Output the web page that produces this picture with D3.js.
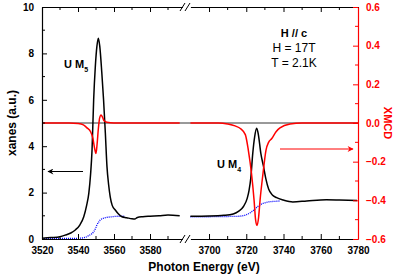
<!DOCTYPE html>
<meta charset="utf-8">
<style>
body { margin: 0; background: #fff; }
text { font-family: Arial, 'Liberation Sans', sans-serif; }
.tick text { font-size: 10px; font-weight: bold; }
</style>
<svg width="399" height="276"></svg>
<script src="https://d3js.org/d3.v7.min.js"></script>
<script>
// energy ranges of the two axis segments (eV)
var domainM5 = [3520, 3600],
    domainM4 = [3690, 3780];
var ticksM5 = [3520, 3540, 3560, 3580],
    ticksM4 = [3700, 3720, 3740, 3760, 3780];
var xanesTicks = [0, 2, 4, 6, 8, 10],
    xmcdTicks = [-0.6, -0.4, -0.2, 0.0, 0.2, 0.4, 0.6];

// xanes, M5 edge  [energy, a.u.]
var xanesM5 = [[3520,0.03],[3525,0.06],[3530,0.1],[3533,0.17],[3536,0.26],[3538.5,0.39],[3541,0.6],
  [3543.2,0.96],[3544.8,1.45],[3546,1.97],[3547,2.8],[3547.8,3.84],[3548.7,6.0],[3549.6,7.4],
  [3550.5,8.3],[3551.3,8.65],[3552.1,8.3],[3553.2,7.2],[3554.2,6.0],[3555.2,4.56],[3556.1,3.12],
  [3557,2.35],[3557.9,1.82],[3559,1.45],[3560.7,1.25],[3562.5,1.08],[3564.4,0.96],[3567,0.92],
  [3570,0.87],[3571.5,0.86],[3573,0.93],[3576,0.96],[3580,0.98],[3585,1.0],[3590,1.03],[3596.5,1.0]];
// xanes, M4 edge
var xanesM4 = [[3690,0.98],[3700,0.99],[3708,1.02],[3713,1.08],[3716,1.2],[3718.4,1.39],[3720.5,1.75],
  [3721.5,2.1],[3722.4,2.6],[3723.5,3.7],[3724.5,4.4],[3725.6,4.77],[3726.6,4.45],[3727.8,3.7],
  [3729.2,3.15],[3730.5,2.6],[3732,2.15],[3734,1.9],[3736.3,1.78],[3739.9,1.68],[3745,1.6],
  [3752.5,1.64],[3763,1.69],[3770,1.68],[3779.5,1.66]];
// edge step (dotted)
var stepM5 = [[3520,0.01],[3530,0.02],[3540,0.03],[3544,0.07],[3546,0.15],[3547.5,0.22],[3548.7,0.31],
  [3549.7,0.45],[3550.5,0.6],[3551.5,0.73],[3552.4,0.82],[3554,0.89],[3556,0.93],[3559,0.96],
  [3562,0.98],[3566,0.98]];
var stepM4 = [[3690,0.96],[3700,0.96],[3710,0.97],[3716,0.98],[3720,1.05],[3722.5,1.15],[3724.5,1.28],
  [3726,1.39],[3728,1.5],[3729.6,1.55],[3732,1.6],[3736.7,1.63],[3738,1.64]];
// XMCD (right axis)
var xmcdM5 = [[3520,0],[3535,0],[3540,-0.003],[3543,-0.01],[3545,-0.025],[3547,-0.045],[3548.3,-0.08],
  [3549.2,-0.13],[3550,-0.158],[3550.6,-0.11],[3551.3,-0.03],[3552,0.025],[3552.8,0.042],
  [3553.6,0.03],[3554.6,0.01],[3556,0.004],[3560,0.0],[3596.5,0.0]];
var xmcdM4 = [[3690,0],[3705,0],[3710,-0.005],[3714,-0.015],[3717,-0.03],[3719.5,-0.06],[3721.1,-0.14],
  [3722.8,-0.26],[3724.2,-0.4],[3725,-0.5],[3725.8,-0.53],[3726.6,-0.49],[3727.4,-0.4],[3729,-0.26],
  [3730.6,-0.14],[3732,-0.1],[3733.7,-0.08],[3736,-0.045],[3738.1,-0.025],[3743.5,-0.005],
  [3750,0],[3780,0]];

var svg = d3.select("svg");
var mLeft = 42, mRight = 358, mTop = 7, mBottom = 239;

var xL = d3.scaleLinear().domain(domainM5).range([mLeft, 186]);
var xR = d3.scaleLinear().domain(domainM4).range([190.4, mRight]);
var yL = d3.scaleLinear().domain([0, 10]).range([mBottom, mTop]);
var yR = d3.scaleLinear().domain([-0.6, 0.6]).range([mBottom, mTop]);

function line(x, y) {
	return d3.line()
		.x(function(d) { return x(d[0]); })
		.y(function(d) { return y(d[1]); })
		.curve(d3.curveMonotoneX);
}

// zero reference line
svg.append("line").attr("x1", mLeft).attr("x2", mRight)
	.attr("y1", yR(0)).attr("y2", yR(0))
	.attr("stroke", "#000").attr("stroke-width", 0.8);

// dotted edge steps
svg.append("path").datum(stepM5).attr("d", line(xL, yL))
	.attr("fill", "none").attr("stroke", "#0000ff").attr("stroke-width", 1.3).attr("stroke-dasharray", "1,1");
svg.append("path").datum(stepM4).attr("d", line(xR, yL))
	.attr("fill", "none").attr("stroke", "#0000ff").attr("stroke-width", 1.3).attr("stroke-dasharray", "1,1");

// xanes
svg.append("path").datum(xanesM5).attr("d", line(xL, yL))
	.attr("fill", "none").attr("stroke", "#000").attr("stroke-width", 1.5);
svg.append("path").datum(xanesM4).attr("d", line(xR, yL))
	.attr("fill", "none").attr("stroke", "#000").attr("stroke-width", 1.5);

// xmcd
svg.append("path").datum(xmcdM5).attr("d", line(xL, yR))
	.attr("fill", "none").attr("stroke", "#ff0000").attr("stroke-width", 1.5);
svg.append("path").datum(xmcdM4).attr("d", line(xR, yR))
	.attr("fill", "none").attr("stroke", "#ff0000").attr("stroke-width", 1.5);

// axes
svg.append("g").attr("transform", "translate(0," + mBottom + ")")
	.call(d3.axisBottom(xL).tickValues(ticksM5).tickSizeInner(-5).tickSizeOuter(0).tickPadding(8).tickFormat(d3.format("d")));
svg.append("g").attr("transform", "translate(0," + mBottom + ")")
	.call(d3.axisBottom(xR).tickValues(ticksM4).tickSizeInner(-5).tickSizeOuter(0).tickPadding(8).tickFormat(d3.format("d")));
svg.append("g").attr("transform", "translate(0," + mTop + ")")
	.call(d3.axisTop(xL).tickValues(ticksM5).tickSizeInner(-5).tickSizeOuter(0).tickFormat(""));
svg.append("g").attr("transform", "translate(0," + mTop + ")")
	.call(d3.axisTop(xR).tickValues(ticksM4).tickSizeInner(-5).tickSizeOuter(0).tickFormat(""));

// minor x ticks
[[xL, [3530, 3550, 3570, 3590]], [xR, [3710, 3730, 3750, 3770]]].forEach(function(p) {
	p[1].forEach(function(v) {
		svg.append("line").attr("x1", p[0](v)).attr("x2", p[0](v)).attr("y1", mBottom).attr("y2", mBottom - 3).attr("stroke", "#000");
		svg.append("line").attr("x1", p[0](v)).attr("x2", p[0](v)).attr("y1", mTop).attr("y2", mTop + 3).attr("stroke", "#000");
	});
});

svg.append("g").attr("transform", "translate(" + mLeft + ",0)")
	.call(d3.axisLeft(yL).tickValues(xanesTicks).tickSizeInner(-5).tickSizeOuter(0).tickPadding(8).tickFormat(d3.format("d")));
[1, 3, 5, 7, 9].forEach(function(v) {
	svg.append("line").attr("x1", mLeft).attr("x2", mLeft + 3).attr("y1", yL(v)).attr("y2", yL(v)).attr("stroke", "#000");
});

var axRight = svg.append("g").attr("transform", "translate(" + mRight + ",0)")
	.call(d3.axisRight(yR).tickValues(xmcdTicks).tickSizeInner(-5).tickSizeOuter(0).tickPadding(8).tickFormat(d3.format(".1f")));
axRight.selectAll("line, path").attr("stroke", "#ff0000");
axRight.selectAll("text").attr("fill", "#ff0000");
[-0.5, -0.3, -0.1, 0.1, 0.3, 0.5].forEach(function(v) {
	svg.append("line").attr("x1", mRight).attr("x2", mRight - 3).attr("y1", yR(v)).attr("y2", yR(v)).attr("stroke", "#ff0000");
});
svg.selectAll(".domain").attr("stroke-width", 1.2);

// break marks
[mTop, mBottom].forEach(function(y) {
	svg.append("rect").attr("x", 183).attr("y", y - 2).attr("width", 7).attr("height", 4).attr("fill", "#fff");
	[182.5, 187.5].forEach(function(x) {
		svg.append("line").attr("x1", x - 2.5).attr("x2", x + 2.5).attr("y1", y + 4).attr("y2", y - 4)
			.attr("stroke", "#000").attr("stroke-width", 1);
	});
});

// arrows
var defs = svg.append("defs");
[["blk", "#000"], ["red", "#ff0000"]].forEach(function(m) {
	defs.append("marker").attr("id", "ah-" + m[0]).attr("viewBox", "0 0 10 10")
		.attr("refX", 9).attr("refY", 5).attr("markerWidth", 9).attr("markerHeight", 6)
		.attr("markerUnits", "userSpaceOnUse").attr("orient", "auto")
		.append("path").attr("d", "M0,0 L10,5 L0,10 L3,5 Z").attr("fill", m[1]);
});
svg.append("line").attr("x1", 83).attr("x2", 48).attr("y1", 171.5).attr("y2", 171.5)
	.attr("stroke", "#000").attr("stroke-width", 1).attr("marker-end", "url(#ah-blk)");
svg.append("line").attr("x1", 280).attr("x2", 353).attr("y1", 149).attr("y2", 149)
	.attr("stroke", "#ff0000").attr("stroke-width", 1).attr("marker-end", "url(#ah-red)");

// labels
svg.append("text").attr("x", 204).attr("y", 271).attr("text-anchor", "middle")
	.style("font-size", "12px").style("font-weight", "bold").text("Photon Energy (eV)");
svg.append("text").attr("transform", "translate(16,123) rotate(-90)").attr("text-anchor", "middle")
	.style("font-size", "12px").style("font-weight", "bold").text("xanes (a.u.)");
svg.append("text").attr("transform", "translate(384,123) rotate(90)").attr("text-anchor", "middle")
	.style("font-size", "11px").style("font-weight", "bold").attr("fill", "#ff0000").text("XMCD");

var m5 = svg.append("text").attr("x", 64).attr("y", 68).style("font-size", "11px").style("font-weight", "bold");
m5.append("tspan").text("U M");
m5.append("tspan").attr("dy", 4).style("font-size", "7px").text("5");
var m4 = svg.append("text").attr("x", 217).attr("y", 168).style("font-size", "11px").style("font-weight", "bold");
m4.append("tspan").text("U M");
m4.append("tspan").attr("dy", 4).style("font-size", "7px").text("4");

svg.append("text").attr("x", 294).attr("y", 37).attr("text-anchor", "middle")
	.style("font-size", "11px").style("font-weight", "bold").text("H // c");
svg.append("text").attr("x", 294).attr("y", 52).attr("text-anchor", "middle")
	.style("font-size", "12px").text("H = 17T");
svg.append("text").attr("x", 294).attr("y", 67).attr("text-anchor", "middle")
	.style("font-size", "12px").text("T = 2.1K");
</script>
